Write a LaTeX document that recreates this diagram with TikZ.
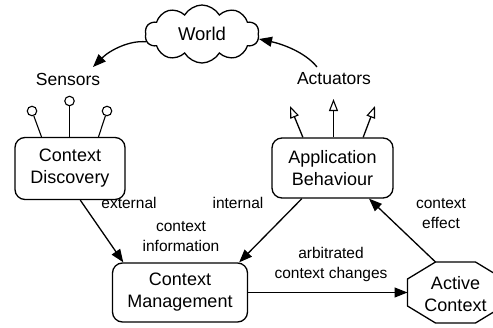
\documentclass[tikz,border=0pt]{standalone}
\usepackage{fontspec}
\setmainfont{Liberation Sans}
\usetikzlibrary{shapes.symbols,arrows.meta,calc}

\tikzset{
  every picture/.style={x=1pt,y=-1pt},
  line/.style={line width=1.3pt},
  boxnode/.style={draw,line width=1.3pt,rounded corners=10pt,align=center,
    inner sep=0pt,font=\fontsize{18}{22}\selectfont},
  lbl/.style={align=center,inner sep=0pt,font=\fontsize{15.5}{20}\selectfont},
  io/.style={inner sep=0pt,font=\fontsize{17.5}{21}\selectfont},
  flow/.style={line,-{Triangle[length=13pt,width=10pt]}},
  outflow/.style={line,-{Triangle[open,length=12pt,width=9pt,line width=1.1pt]}},
  knob/.style={circle,draw,line width=1.1pt,minimum size=9.5pt,inner sep=0pt},
  stalk/.style={line width=1.1pt},
}

\begin{document}
\begin{tikzpicture}
\useasboundingbox (0,0) rectangle (493,327);

% the world and its links
\node[cloud,draw,line width=1.3pt,cloud puffs=10,cloud puff arc=120,aspect=2,
      minimum width=114pt,minimum height=58pt,inner sep=0pt,
      font=\fontsize{18.5}{22}\selectfont] (world) at (202,34) {World};

\node[io] (sens) at (68,79) {Sensors};
\node[io] (actu) at (334,79) {Actuators};
\coordinate (sensin) at (93,67);
\coordinate (actuout) at (317,67);

\draw[flow] (world.188) .. controls (130,40) and (110,50) .. (sensin);
\draw[flow] (actuout) .. controls (305,52) and (282,44) .. (world.-5);

% main boxes
\node[boxnode,minimum width=110pt,minimum height=62pt] (cd) at (70,168.5)
  {Context\\Discovery};
\node[boxnode,minimum width=121pt,minimum height=60pt] (ab) at (332.5,168)
  {Application\\Behaviour};
\node[boxnode,minimum width=135pt,minimum height=59pt] (cm) at (180,292.5)
  {Context\\Management};

% sensor knobs
\node[knob] (s1) at (32,111) {};
\node[knob] (s2) at (69.5,101) {};
\node[knob] (s3) at (107,111) {};
\draw[stalk] (cd.132) -- (s1);
\draw[stalk] ($(cd.north)+(-0.5,0)$) -- (s2);
\draw[stalk] (cd.48) -- (s3);

% actuator outputs
\coordinate (a1) at (290,106);
\coordinate (a2) at (333.5,99);
\coordinate (a3) at (375,106);
\draw[outflow] (ab.134.5) -- (a1);
\draw[outflow] ($(ab.north)+(1,0)$) -- (a2);
\draw[outflow] (ab.45.5) -- (a3);

% active context octagon
\node[inner sep=0pt,align=center,font=\fontsize{18}{22}\selectfont] (ac) at (455.5,294)
  {Active\\Context};
\draw[line width=1.3pt,shift={(455.5,292.5)}]
  (-20,-30.5) -- (20,-30.5) -- (48,-13.5) -- (48,13.5) -- (20,30.5)
  -- (-20,30.5) -- (-48,13.5) -- (-48,-13.5) -- cycle;
\coordinate (acw) at (407.5,292.5);
\coordinate (act) at (435.5,262);

% flows
\draw[flow] (cd.-72) -- (cm.152);
\draw[flow] (ab.225.5) -- (cm.27.8);
\draw[flow] (cm.east) -- (acw);
\draw[flow] (act) -- (ab.-40);

% labels
\node[lbl] (lext) at (129,203) {external};
\node[lbl] (lint) at (238,203) {internal};
\node[lbl] (lci) at (181,237) {context\\information};
\node[lbl] (lacc) at (331,264) {arbitrated\\context changes};
\node[lbl] (lce) at (441,214) {context\\effect};
\end{tikzpicture}
\end{document}
